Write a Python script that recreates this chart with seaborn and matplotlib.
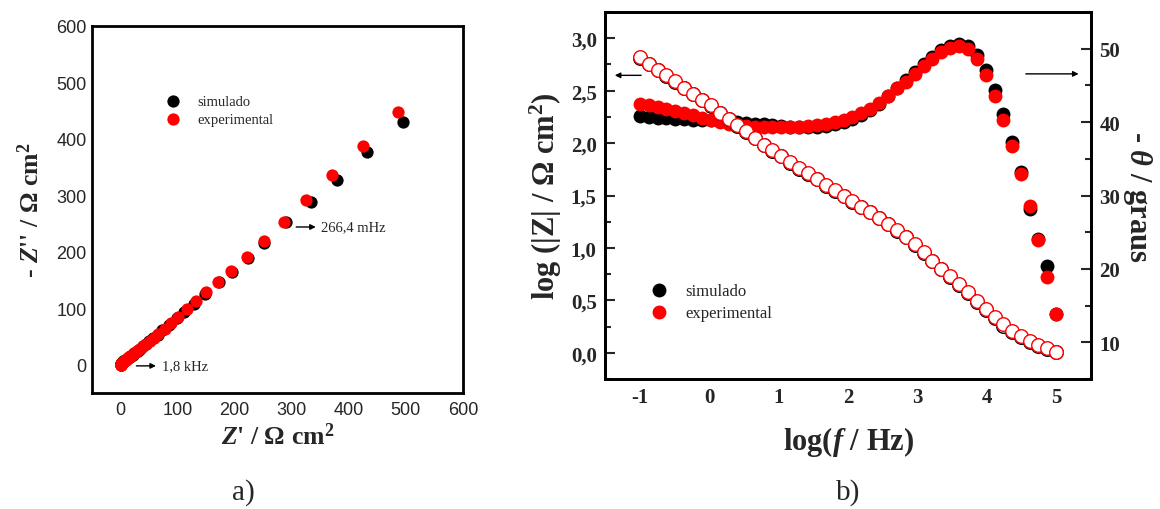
import matplotlib
matplotlib.use("Agg")
import matplotlib.pyplot as plt
import pandas as pd
import seaborn as sns
from matplotlib.ticker import MultipleLocator, FuncFormatter

# Nyquist diagram (panel a), ohm cm2, low to high frequency
exp_zre = [486.7, 425.6, 371.0, 325.8, 287.1, 251.8, 221.3, 193.1, 171.4, 149.7,
           132.1, 115.7, 100.9, 89.2, 77.5, 65.9, 58.7, 51.2, 45.0, 40.1,
           35.2, 30.6, 27.2, 24.1, 21.1, 18.7, 16.5, 14.4, 12.3, 10.5,
           8.9, 7.4, 6.1, 5.0, 4.1, 3.5, 2.9, 2.4, 2.1, 1.8,
           1.6, 1.4, 1.3, 1.2, 1.1, 1.1, 1.0, 1.0]
exp_zim = [448.4, 388.2, 336.3, 292.0, 253.7, 220.0, 191.7, 166.9, 146.3, 128.6,
           112.7, 97.9, 84.4, 73.8, 63.7, 53.9, 48.0, 41.8, 36.9, 33.0,
           29.1, 25.5, 22.8, 20.4, 18.2, 16.3, 14.7, 13.2, 11.7, 10.4,
           9.1, 7.8, 6.7, 5.7, 4.8, 4.1, 3.5, 2.9, 2.3, 1.9,
           1.5, 1.2, 1.0, 0.8, 0.6, 0.5, 0.4, 0.2]
sim_zre = [495.5, 432.6, 379.8, 332.9, 290.6, 252.0, 222.5, 194.6, 172.5, 147.3,
           128.5, 111.5, 98.2, 85.3, 73.5, 64.8, 57.6, 50.3, 44.3, 39.4,
           34.8, 30.4, 27.0, 24.0, 21.1, 18.7, 16.5, 14.5, 12.4, 10.6,
           9.0, 7.5, 6.2, 5.1, 4.2, 3.5, 2.9, 2.4, 2.0, 1.7,
           1.5, 1.4, 1.3, 1.2, 1.1, 1.1, 1.0, 1.0]
sim_zim = [430.7, 376.4, 328.0, 287.9, 252.0, 215.0, 189.0, 165.0, 146.0, 124.6,
           108.2, 93.5, 82.1, 71.1, 61.0, 53.5, 47.4, 41.3, 36.4, 32.4,
           28.6, 25.1, 22.5, 20.1, 18.0, 16.2, 14.6, 13.2, 11.7, 10.4,
           9.2, 7.9, 6.8, 5.8, 4.9, 4.2, 3.6, 3.0, 2.4, 1.9,
           1.5, 1.2, 1.0, 0.8, 0.6, 0.5, 0.4, 0.2]

# Bode diagram (panel b)
log_freq = [-1.00, -0.87, -0.74, -0.62, -0.49, -0.36, -0.23, -0.11, 0.02, 0.15,
            0.28, 0.40, 0.53, 0.66, 0.79, 0.91, 1.04, 1.17, 1.30, 1.43,
            1.55, 1.68, 1.81, 1.94, 2.06, 2.19, 2.32, 2.45, 2.57, 2.70,
            2.83, 2.96, 3.09, 3.21, 3.34, 3.47, 3.60, 3.72, 3.85, 3.98,
            4.11, 4.23, 4.36, 4.49, 4.62, 4.74, 4.87, 5.00]
exp_logz = [2.823, 2.758, 2.701, 2.646, 2.589, 2.527, 2.470, 2.412, 2.360, 2.290,
            2.230, 2.168, 2.112, 2.050, 1.985, 1.930, 1.880, 1.820, 1.765, 1.715,
            1.660, 1.600, 1.550, 1.500, 1.445, 1.395, 1.345, 1.290, 1.230, 1.170,
            1.105, 1.035, 0.960, 0.880, 0.800, 0.730, 0.655, 0.575, 0.495, 0.415,
            0.340, 0.270, 0.210, 0.160, 0.112, 0.074, 0.042, 0.010]
sim_logz = [2.816, 2.752, 2.696, 2.641, 2.585, 2.522, 2.466, 2.408, 2.355, 2.285,
            2.225, 2.163, 2.107, 2.045, 1.980, 1.925, 1.874, 1.812, 1.756, 1.707,
            1.654, 1.595, 1.546, 1.496, 1.441, 1.391, 1.341, 1.286, 1.226, 1.166,
            1.101, 1.031, 0.956, 0.876, 0.796, 0.726, 0.650, 0.568, 0.487, 0.404,
            0.328, 0.258, 0.198, 0.148, 0.100, 0.064, 0.034, 0.006]
exp_phase = [42.5, 42.3, 42.0, 41.8, 41.5, 41.2, 40.9, 40.6, 40.3, 40.0,
             39.8, 39.6, 39.5, 39.4, 39.35, 39.3, 39.3, 39.3, 39.35, 39.45,
             39.6, 39.8, 40.0, 40.3, 40.7, 41.2, 41.8, 42.6, 43.6, 44.6,
             45.5, 46.5, 47.6, 48.6, 49.5, 50.1, 50.4, 49.9, 48.6, 46.4,
             43.6, 40.3, 36.7, 32.9, 28.6, 24.0, 18.9, 13.8]
sim_phase = [40.8, 40.7, 40.6, 40.5, 40.45, 40.4, 40.35, 40.3, 40.25, 40.2,
             40.1, 40.0, 39.9, 39.8, 39.7, 39.6, 39.5, 39.4, 39.35, 39.35,
             39.4, 39.5, 39.7, 40.0, 40.4, 40.9, 41.6, 42.5, 43.5, 44.6,
             45.7, 46.8, 47.9, 48.9, 49.8, 50.4, 50.7, 50.4, 49.2, 47.1,
             44.4, 41.1, 37.3, 33.2, 28.2, 24.1, 20.4, 13.9]

SERIF = "Liberation Serif"
SANS = "Liberation Sans"


def setup_style():
    """Global style: white background, Times-like serif text."""
    sns.set_style("white")
    plt.rcParams["font.family"] = [SERIF, "DejaVu Serif"]
    plt.rcParams["axes.unicode_minus"] = False
    plt.rcParams["mathtext.fontset"] = "custom"
    plt.rcParams["mathtext.it"] = SERIF + ":italic:bold"
    plt.rcParams["mathtext.rm"] = SERIF + ":bold"
    plt.rcParams["mathtext.bf"] = SERIF + ":bold"


def style_frame(ax):
    for spine in ax.spines.values():
        spine.set_linewidth(2.0)
        spine.set_color("black")


def plot_nyquist(ax):
    """Panel a: -Z'' vs Z'."""
    sim = pd.DataFrame({"zre": sim_zre, "zim": sim_zim})
    exp = pd.DataFrame({"zre": exp_zre, "zim": exp_zim})
    sns.scatterplot(data=sim, x="zre", y="zim", color="black", s=78,
                    linewidth=0, label="simulado", ax=ax)
    sns.scatterplot(data=exp, x="zre", y="zim", color="red", s=78,
                    linewidth=0, label="experimental", ax=ax)

    ax.set_xlim(-50, 600)
    ax.set_ylim(-50, 600)
    ax.xaxis.set_major_locator(MultipleLocator(100))
    ax.xaxis.set_minor_locator(MultipleLocator(50))
    ax.yaxis.set_major_locator(MultipleLocator(100))
    ax.yaxis.set_minor_locator(MultipleLocator(50))
    ax.tick_params(which="both", direction="in", top=False, right=False,
                   width=1.5, labelsize=13, labelfontfamily=SANS)
    ax.tick_params(which="major", length=7)
    ax.tick_params(which="minor", length=4)
    ax.tick_params(axis="x", pad=6)
    ax.tick_params(axis="y", pad=4)
    style_frame(ax)

    ax.set_xlabel(r"$Z$' / Ω cm$^{2}$", fontsize=18.5, fontweight="bold",
                  labelpad=3)
    ax.set_ylabel(r"- $Z$'' / Ω cm$^{2}$", fontsize=18.5, fontweight="bold",
                  labelpad=9)

    arrow = dict(arrowstyle="-|>", color="black", lw=1.0, mutation_scale=8)
    ax.annotate("", xy=(347, 244), xytext=(303, 244), arrowprops=arrow)
    ax.text(352, 244, "266,4 mHz", fontsize=10.5, va="center")
    ax.annotate("", xy=(67, -2), xytext=(23, -2), arrowprops=arrow)
    ax.text(72, -2, "1,8 kHz", fontsize=10.5, va="center")

    ax.legend(loc="upper left", bbox_to_anchor=(0.199, 0.812), frameon=False,
              fontsize=10.5, handlelength=1.0, handletextpad=1.15,
              labelspacing=0.3, borderpad=0, borderaxespad=0)


def plot_bode(ax):
    """Panel b: log|Z| (open) and phase (filled, right axis) vs log f."""
    ax2 = ax.twinx()
    df = pd.DataFrame({
        "logf": log_freq,
        "exp_logz": exp_logz,
        "sim_logz": sim_logz,
        "exp_phase": exp_phase,
        "sim_phase": sim_phase,
    })

    sns.scatterplot(data=df, x="logf", y="sim_phase", color="black", s=100,
                    linewidth=0, label="simulado", ax=ax2)
    sns.scatterplot(data=df, x="logf", y="exp_phase", color="red", s=100,
                    linewidth=0, label="experimental", ax=ax2)
    sns.scatterplot(data=df, x="logf", y="sim_logz", color="white", s=95,
                    edgecolor="black", linewidth=1.0, legend=False, ax=ax)
    sns.scatterplot(data=df, x="logf", y="exp_logz", color="white", s=95,
                    edgecolor="red", linewidth=1.0, legend=False, ax=ax)

    # left-axis (open circles) drawn above the phase data
    ax.set_zorder(ax2.get_zorder() + 1)
    ax.patch.set_visible(False)

    ax.set_xlim(-1.5, 5.5)
    ax.set_ylim(-0.25, 3.25)
    ax2.set_ylim(5, 55)
    ax.xaxis.set_major_locator(MultipleLocator(1))
    ax.xaxis.set_minor_locator(MultipleLocator(0.5))
    ax.yaxis.set_major_locator(MultipleLocator(0.5))
    ax.yaxis.set_minor_locator(MultipleLocator(0.25))
    ax.yaxis.set_major_formatter(
        FuncFormatter(lambda v, _: f"{v:.1f}".replace(".", ",")))
    ax2.yaxis.set_major_locator(MultipleLocator(10))
    ax2.yaxis.set_minor_locator(MultipleLocator(5))

    for a in (ax, ax2):
        a.tick_params(which="both", direction="in", top=False, width=1.5,
                      labelsize=15, pad=6)
        a.tick_params(which="major", length=7)
        a.tick_params(which="minor", length=4)
        style_frame(a)
    ax.tick_params(which="both", right=False)
    ax2.tick_params(which="both", left=False, bottom=False)
    plt.setp(ax.get_xticklabels() + ax.get_yticklabels()
             + ax2.get_yticklabels(), fontweight="bold")

    ax.set_xlabel(r"log($f$ / Hz)", fontsize=22, fontweight="bold",
                  labelpad=12)
    ax.set_ylabel("log (|Z| / Ω cm$^{2}$)", fontsize=22, fontweight="bold",
                  labelpad=5)
    ax2.set_ylabel(r"- $θ$ / graus", fontsize=22, fontweight="bold",
                   rotation=270, labelpad=24)

    arrow = dict(arrowstyle="-|>", color="black", lw=1.0, mutation_scale=8)
    ax.annotate("", xy=(-1.40, 2.646), xytext=(-0.94, 2.646),
                arrowprops=arrow)
    ax.annotate("", xy=(5.36, 2.66), xytext=(4.52, 2.66), arrowprops=arrow)

    handles, labels = ax2.get_legend_handles_labels()
    ax2.get_legend().remove()
    ax.legend(handles, labels, loc="upper left",
              bbox_to_anchor=(0.094, 0.262), frameon=False, fontsize=12,
              handlelength=1.0, handletextpad=1.1, labelspacing=0.35,
              borderpad=0, borderaxespad=0)


setup_style()
fig = plt.figure(figsize=(11.6, 5.1), dpi=100)
ax_a = fig.add_axes([0.0793, 0.2275, 0.3198, 0.7196])
ax_b = fig.add_axes([0.5216, 0.2549, 0.4190, 0.7196])

plot_nyquist(ax_a)
plot_bode(ax_b)

fig.text(243 / 1160, 1 - 493 / 510, "a)", fontsize=21, ha="center",
         va="center")
fig.text(848 / 1160, 1 - 493 / 510, "b)", fontsize=21, ha="center",
         va="center")

fig.savefig("out.png", dpi=100, facecolor="white")
